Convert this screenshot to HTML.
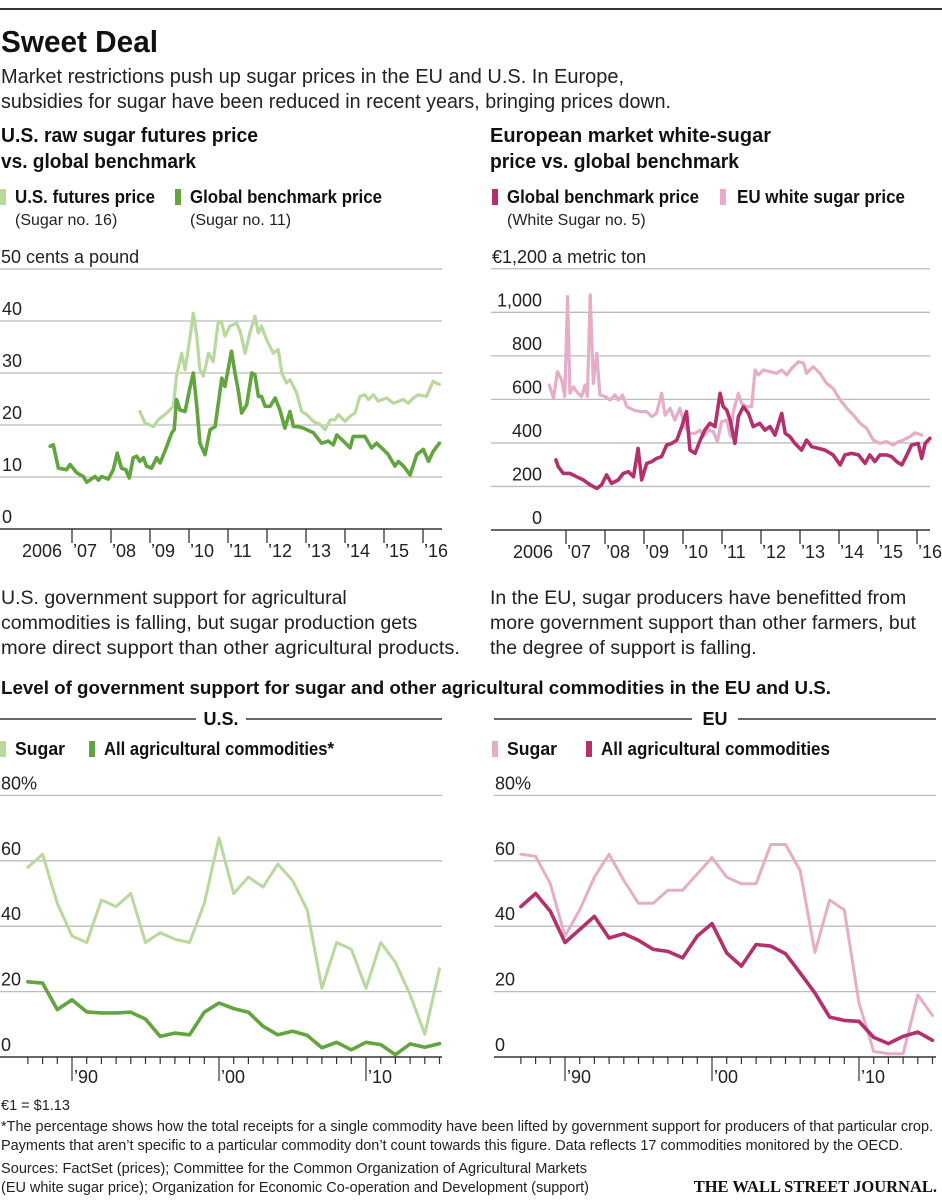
<!DOCTYPE html>
<html><head><meta charset="utf-8"><style>
html,body{margin:0;padding:0;background:#fff;}
svg{display:block;font-family:"Liberation Sans Narrow","Liberation Sans",sans-serif;}
.b{font-weight:bold;}
</style></head><body>
<svg id="s" width="942" height="1200" viewBox="0 0 942 1200" xmlns="http://www.w3.org/2000/svg">
<line x1="0" y1="9" x2="942" y2="9" stroke="#333" stroke-width="2"/>
<text x="1" y="52" font-size="31" class="b" fill="#111" textLength="157" lengthAdjust="spacingAndGlyphs">Sweet Deal</text>
<text x="1" y="83" font-size="20" fill="#222" textLength="623" lengthAdjust="spacingAndGlyphs">Market restrictions push up sugar prices in the EU and U.S. In Europe,</text>
<text x="1" y="108" font-size="20" fill="#222" textLength="670" lengthAdjust="spacingAndGlyphs">subsidies for sugar have been reduced in recent years, bringing prices down.</text>

<g font-size="20" class="b" fill="#111">
<text x="1" y="142" textLength="257" lengthAdjust="spacingAndGlyphs">U.S. raw sugar futures price</text><text x="1" y="168" textLength="195" lengthAdjust="spacingAndGlyphs">vs. global benchmark</text></g>
<g font-size="20" class="b" fill="#111">
<text x="490" y="142" textLength="281" lengthAdjust="spacingAndGlyphs">European market white-sugar</text><text x="490" y="168" textLength="249" lengthAdjust="spacingAndGlyphs">price vs. global benchmark</text></g>

<g>
<rect x="0" y="189" width="6" height="16" fill="#b9d89e"/>
<text x="15" y="203" font-size="18" class="b" fill="#111" textLength="140" lengthAdjust="spacingAndGlyphs">U.S. futures price</text>
<text x="15" y="225" font-size="16" fill="#222">(Sugar no. 16)</text>
<rect x="175" y="189" width="6" height="16" fill="#62a43e"/>
<text x="190" y="203" font-size="18" class="b" fill="#111" textLength="192" lengthAdjust="spacingAndGlyphs">Global benchmark price</text>
<text x="190" y="225" font-size="16" fill="#222">(Sugar no. 11)</text>
</g>
<g>
<rect x="492" y="189" width="6" height="16" fill="#b3306d"/>
<text x="507" y="203" font-size="18" class="b" fill="#111" textLength="192" lengthAdjust="spacingAndGlyphs">Global benchmark price</text>
<text x="507" y="225" font-size="16" fill="#222">(White Sugar no. 5)</text>
<rect x="720" y="189" width="6" height="16" fill="#e6adc9"/>
<text x="737" y="203" font-size="18" class="b" fill="#111" textLength="168" lengthAdjust="spacingAndGlyphs">EU white sugar price</text>
</g>

<g id="c1"></g>
<g id="c2"></g>

<g font-size="19.5" fill="#222">
<text x="1" y="604">U.S. government support for agricultural</text>
<text x="1" y="629">commodities is falling, but sugar production gets</text>
<text x="1" y="654" textLength="459" lengthAdjust="spacingAndGlyphs">more direct support than other agricultural products.</text></g>
<g font-size="19.5" fill="#222">
<text x="490" y="604">In the EU, sugar producers have benefitted from</text>
<text x="490" y="629">more government support than other farmers, but</text>
<text x="490" y="654">the degree of support is falling.</text></g>

<text x="1" y="694" font-size="18.5" class="b" fill="#111" textLength="830" lengthAdjust="spacingAndGlyphs">Level of government support for sugar and other agricultural commodities in the EU and U.S.</text>

<g>
<line x1="0" y1="719" x2="196" y2="719" stroke="#333" stroke-width="1.5"/>
<text x="221" y="725" font-size="18" class="b" text-anchor="middle" fill="#111">U.S.</text>
<line x1="246" y1="719" x2="442" y2="719" stroke="#333" stroke-width="1.5"/></g>
<g>
<line x1="494" y1="719" x2="692" y2="719" stroke="#333" stroke-width="1.5"/>
<text x="715" y="725" font-size="18" class="b" text-anchor="middle" fill="#111">EU</text>
<line x1="738" y1="719" x2="936" y2="719" stroke="#333" stroke-width="1.5"/></g>

<g>
<rect x="0" y="741" width="6" height="16" fill="#b9d89e"/>
<text x="15" y="755" font-size="18" class="b" fill="#111" textLength="50" lengthAdjust="spacingAndGlyphs">Sugar</text>
<rect x="89" y="741" width="6" height="16" fill="#62a43e"/>
<text x="104" y="755" font-size="18" class="b" fill="#111" textLength="230" lengthAdjust="spacingAndGlyphs">All agricultural commodities*</text></g>
<g>
<rect x="492" y="741" width="6" height="16" fill="#e6adc9"/>
<text x="507" y="755" font-size="18" class="b" fill="#111" textLength="50" lengthAdjust="spacingAndGlyphs">Sugar</text>
<rect x="586" y="741" width="6" height="16" fill="#b3306d"/>
<text x="601" y="755" font-size="18" class="b" fill="#111" textLength="229" lengthAdjust="spacingAndGlyphs">All agricultural commodities</text></g>

<g id="c3"></g>
<g id="c4"></g>

<g font-size="14.5" fill="#222">
<text x="1" y="1110">€1 = $1.13</text>
<text x="1" y="1131" textLength="932" lengthAdjust="spacingAndGlyphs">*The percentage shows how the total receipts for a single commodity have been lifted by government support for producers of that particular crop.</text>
<text x="1" y="1150" textLength="902" lengthAdjust="spacingAndGlyphs">Payments that aren’t specific to a particular commodity don’t count towards this figure. Data reflects 17 commodities monitored by the OECD.</text>
<text x="1" y="1173" textLength="586" lengthAdjust="spacingAndGlyphs">Sources: FactSet (prices); Committee for the Common Organization of Agricultural Markets</text>
<text x="1" y="1192" textLength="588" lengthAdjust="spacingAndGlyphs">(EU white sugar price); Organization for Economic Co-operation and Development (support)</text>
</g>
<text x="937" y="1192" font-size="16.5" text-anchor="end" font-family="Liberation Serif,serif" font-weight="bold" fill="#111">THE WALL STREET JOURNAL.</text>
</svg>
<script>
// ---- chart 1 data (US cents/lb) ----
const globalYears=[2006.44,2006.52,2006.65,2006.86,2006.95,2007.12,2007.29,2007.38,2007.59,2007.68,2007.76,2007.93,2008.06,2008.16,2008.27,2008.38,2008.47,2008.57,2008.66,2008.74,2008.83,2008.91,2009.04,2009.17,2009.26,2009.43,2009.56,2009.62,2009.68,2009.77,2009.90,2010.03,2010.11,2010.20,2010.28,2010.41,2010.54,2010.67,2010.84,2010.92,2011.09,2011.18,2011.26,2011.35,2011.48,2011.61,2011.69,2011.78,2011.86,2011.95,2012.08,2012.21,2012.33,2012.46,2012.59,2012.68,2012.80,2012.93,2013.19,2013.40,2013.57,2013.70,2013.79,2013.96,2014.13,2014.21,2014.43,2014.51,2014.68,2014.81,2014.98,2015.11,2015.28,2015.37,2015.50,2015.67,2015.84,2016.01,2016.14,2016.26,2016.42];
const globalValues=[15.9,16.2,11.7,11.4,12.4,10.8,10.1,9.0,10.1,9.4,10.1,9.6,11.4,14.6,11.7,11.4,9.8,13.7,14.0,13.0,13.7,12.1,11.7,13.7,12.7,15.9,18.5,19.1,24.9,22.9,22.6,27.4,30.0,23.6,16.5,14.3,19.1,19.7,29.0,27.4,34.2,30.0,26.8,22.3,23.9,30.0,29.7,25.5,25.5,23.6,23.6,25.2,22.9,19.4,22.6,19.7,19.7,19.4,18.5,16.5,16.9,16.2,18.1,16.9,15.6,17.8,17.8,17.8,15.6,16.5,15.3,14.3,12.1,13.0,12.1,10.4,14.3,15.3,13.0,14.9,16.5];
const futuresYears=[2008.74,2008.87,2009.09,2009.21,2009.43,2009.60,2009.68,2009.81,2009.90,2010.03,2010.11,2010.20,2010.28,2010.37,2010.50,2010.62,2010.75,2010.84,2010.92,2011.05,2011.22,2011.31,2011.44,2011.56,2011.69,2011.78,2011.86,2011.99,2012.16,2012.29,2012.38,2012.50,2012.59,2012.76,2012.89,2013.02,2013.19,2013.36,2013.49,2013.62,2013.74,2013.83,2014.00,2014.13,2014.26,2014.38,2014.51,2014.60,2014.73,2014.85,2015.07,2015.24,2015.50,2015.62,2015.75,2015.88,2016.09,2016.26,2016.42];
const futuresValues=[22.6,20.4,19.7,21.0,22.3,23.6,29.4,33.8,30.6,37.1,41.5,37.1,30.6,29.4,33.8,32.2,39.9,39.6,37.1,39.0,39.6,38.0,33.8,37.7,40.9,37.7,39.0,36.4,33.8,34.5,30.0,28.1,28.7,26.2,22.6,22.0,20.7,20.1,19.1,21.0,21.0,22.0,20.7,21.7,22.3,25.5,25.8,24.9,25.8,24.6,25.2,24.2,24.9,24.2,25.2,25.8,25.5,28.4,27.8];
const usPriceTicks=[0,10,20,30,40,50];
const yearTickLabels=["2006","’07","’08","’09","’10","’11","’12","’13","’14","’15","’16"];
// ---- chart 2 data (EUR/metric ton) ----
const whiteYears=[2006.74,2006.80,2006.93,2007.10,2007.27,2007.44,2007.62,2007.79,2007.91,2008.04,2008.17,2008.34,2008.47,2008.60,2008.73,2008.85,2008.94,2009.07,2009.20,2009.32,2009.45,2009.58,2009.71,2009.84,2009.97,2010.09,2010.18,2010.31,2010.44,2010.56,2010.69,2010.82,2010.95,2011.03,2011.12,2011.21,2011.33,2011.42,2011.55,2011.68,2011.80,2011.97,2012.10,2012.23,2012.36,2012.53,2012.62,2012.74,2012.87,2013.04,2013.17,2013.30,2013.47,2013.64,2013.85,2014.03,2014.15,2014.32,2014.50,2014.67,2014.79,2014.92,2015.05,2015.22,2015.35,2015.48,2015.61,2015.74,2015.86,2016.03,2016.12,2016.21,2016.33];
const whiteValues=[322,291,260,260,245,230,207,191,207,253,214,230,260,268,245,375,230,306,314,329,337,390,398,413,475,544,367,352,413,459,490,475,628,567,551,505,398,521,567,536,475,490,459,475,436,536,444,429,398,367,413,383,375,367,345,299,345,352,345,306,345,314,345,345,337,314,299,345,390,398,329,398,421];
const euYears=[2006.57,2006.68,2006.78,2006.89,2006.97,2007.04,2007.10,2007.19,2007.27,2007.40,2007.49,2007.55,2007.62,2007.70,2007.79,2007.87,2008.00,2008.13,2008.26,2008.34,2008.45,2008.56,2008.73,2008.90,2009.07,2009.20,2009.32,2009.45,2009.54,2009.67,2009.79,2009.92,2010.05,2010.18,2010.31,2010.44,2010.52,2010.65,2010.78,2010.88,2010.99,2011.12,2011.22,2011.29,2011.42,2011.50,2011.63,2011.76,2011.85,2011.93,2012.06,2012.23,2012.40,2012.53,2012.66,2012.79,2012.96,2013.09,2013.17,2013.34,2013.51,2013.68,2013.85,2014.03,2014.20,2014.37,2014.54,2014.71,2014.88,2015.05,2015.22,2015.39,2015.52,2015.65,2015.82,2015.95,2016.12];
const euValues=[666,605,727,689,613,1072,628,658,636,613,666,613,1080,674,812,620,613,597,620,597,620,567,551,544,544,521,536,628,528,559,505,559,475,444,444,459,429,459,452,406,498,505,429,544,628,582,567,567,735,712,735,727,720,735,712,743,773,766,720,750,720,674,651,597,559,528,490,467,413,398,406,390,406,413,429,447,436];
const euPriceTicks=[0,200,400,600,800,1000,1200];
const euTickLabels=["0","200","400","600","800","1,000",""];
// ---- support data (%), 1987-2015 ----
const supportYears=[1987,1988,1989,1990,1991,1992,1993,1994,1995,1996,1997,1998,1999,2000,2001,2002,2003,2004,2005,2006,2007,2008,2009,2010,2011,2012,2013,2014,2015];
const usSugar=[58,62,47,37,35,48,46,50,35,38,36,35,47,67,50,55,52,59,54,45,21,35,33,21,35,29,19,7,27];
const usAll=[23,22.6,14.5,17.5,13.8,13.5,13.5,13.7,11.6,6.3,7.3,6.8,13.7,16.5,14.8,13.7,9.4,6.8,7.9,6.6,2.8,4.5,2.2,4.5,3.8,0.7,4,3,4.1];
const euSugar=[62,61.4,53,37,45,55,62,54,47,47,51,51,56,61,55,53,53,65,65,57,32,48,45,16.5,1.7,1,1,19,12.7];
const euAll=[46,50,44.6,35,39,43,36.4,37.7,35.7,32.9,32.3,30.3,37,40.8,31.8,27.8,34.4,33.9,31.6,25.7,19.6,12.2,11.2,10.9,6,4.1,6.3,7.6,5.1];
const supportTicks=[0,20,40,60,80];
const decadeLabels=["’90","’00","’10"];

const NS="http://www.w3.org/2000/svg";
function mk(p,tag,at){const e=document.createElementNS(NS,tag);for(const k in at)e.setAttribute(k,at[k]);p.appendChild(e);return e;}
function line(g,xs,ys,xf,yf,color,w,name){
  let d="";for(let i=0;i<xs.length;i++){d+=(i?"L":"M")+xf(xs[i]).toFixed(1)+","+yf(ys[i]).toFixed(1);}
  const p=mk(g,"path",{d:d,fill:"none",stroke:color,"stroke-width":w,"stroke-linejoin":"round","stroke-linecap":"round"});
  
  
}
function priceChart(g,x0,x1,y0,perUnit,ticks,labels,labAnchorX,anchor,xYear,unitLabel,firstEndGap){
  const yf=v=>y0-v*perUnit;
  ticks.forEach((t,i)=>{
    if(t>0){const gl=mk(g,"line",{x1:x0,x2:x1,y1:yf(t),y2:yf(t),stroke:"#bcbcbc","stroke-width":1.3});
      
      }
    const lab=labels?labels[i]:String(t);
    if(lab!==""&&i<ticks.length-1){const tx=mk(g,"text",{x:labAnchorX,y:yf(t)-6,"font-size":18,fill:"#222","text-anchor":anchor});tx.textContent=lab;
      
      }
  });
  const ul=mk(g,"text",{x:x0+1,y:yf(ticks[ticks.length-1])-6,"font-size":18,fill:"#222"});ul.textContent=unitLabel;
  
  
  const base=mk(g,"line",{x1:x0,x2:x1,y1:y0,y2:y0,stroke:"#333","stroke-width":1.6});
  
  
  yearTickLabels.forEach((l,i)=>{
    const x=xYear(2006+i);
    if(i>0){const tk=mk(g,"line",{x1:x,x2:x,y1:y0,y2:y0+14,stroke:"#333","stroke-width":1.3});
      
      }
    const tx=mk(g,"text",{x:i?x+1:xYear(2007)-firstEndGap,y:y0+28,"font-size":18,fill:"#222","text-anchor":i?"start":"end"});tx.textContent=l;
    
    
  });
  return yf;
}
// chart 1
const g1=document.getElementById("c1");
const x1f=y=>72+(y-2007)*39;
const y1f=priceChart(g1,0,442,529,5.2,usPriceTicks,null,2,"start",x1f,"50 cents a pound",10);
line(g1,futuresYears,futuresValues,x1f,y1f,"#b9d89e",3.2,"us-futures-line");
line(g1,globalYears,globalValues,x1f,y1f,"#62a43e",3.6,"global-benchmark-line");
// chart 2
const g2=document.getElementById("c2");
const x2f=y=>566+(y-2007)*39;
const y2f=priceChart(g2,491,930,530,0.2177,euPriceTicks,euTickLabels,542,"end",x2f,"€1,200 a metric ton",13);
line(g2,euYears,euValues,x2f,y2f,"#e6adc9",3.2,"eu-white-sugar-line");
line(g2,whiteYears,whiteValues,x2f,y2f,"#b3306d",3.6,"global-white-sugar-line");
// support charts
function supportChart(g,x0,x1,x90,a,b,ca,cb,na,nb){
  const xf=y=>x90+(y-1990)*14.7;const yf=v=>1057-v*3.27;
  supportTicks.forEach(t=>{
    if(t>0){const gl=mk(g,"line",{x1:x0,x2:x1,y1:yf(t),y2:yf(t),stroke:"#bcbcbc","stroke-width":1.3});
      
      }
    const tx=mk(g,"text",{x:x0+1,y:yf(t)-6,"font-size":18,fill:"#222"});tx.textContent=t+(t===80?"%":"");
    
    
  });
  const base=mk(g,"line",{x1:x0,x2:x1,y1:1057,y2:1057,stroke:"#333","stroke-width":1.6});
  
  
  supportYears.forEach(y=>{
    const x=xf(y);const major=y%10===0;
    const tk=mk(g,"line",{x1:x,x2:x,y1:1057,y2:1057+(major?24:7),stroke:"#333","stroke-width":1.2});
    
    
  });
  decadeLabels.forEach((l,i)=>{
    const tx=mk(g,"text",{x:xf(1990+10*i)+2,y:1083,"font-size":18,fill:"#222"});tx.textContent=l;
    
    
  });
  line(g,supportYears,a,xf,yf,ca,3,na);
  line(g,supportYears,b,xf,yf,cb,3.6,nb);
}
supportChart(document.getElementById("c3"),0,442,72,usSugar,usAll,"#b9d89e","#62a43e","us-sugar-support-line","us-all-commodities-line");
supportChart(document.getElementById("c4"),494,936,565,euSugar,euAll,"#e6adc9","#b3306d","eu-sugar-support-line","eu-all-commodities-line");
</script>
</body></html>
